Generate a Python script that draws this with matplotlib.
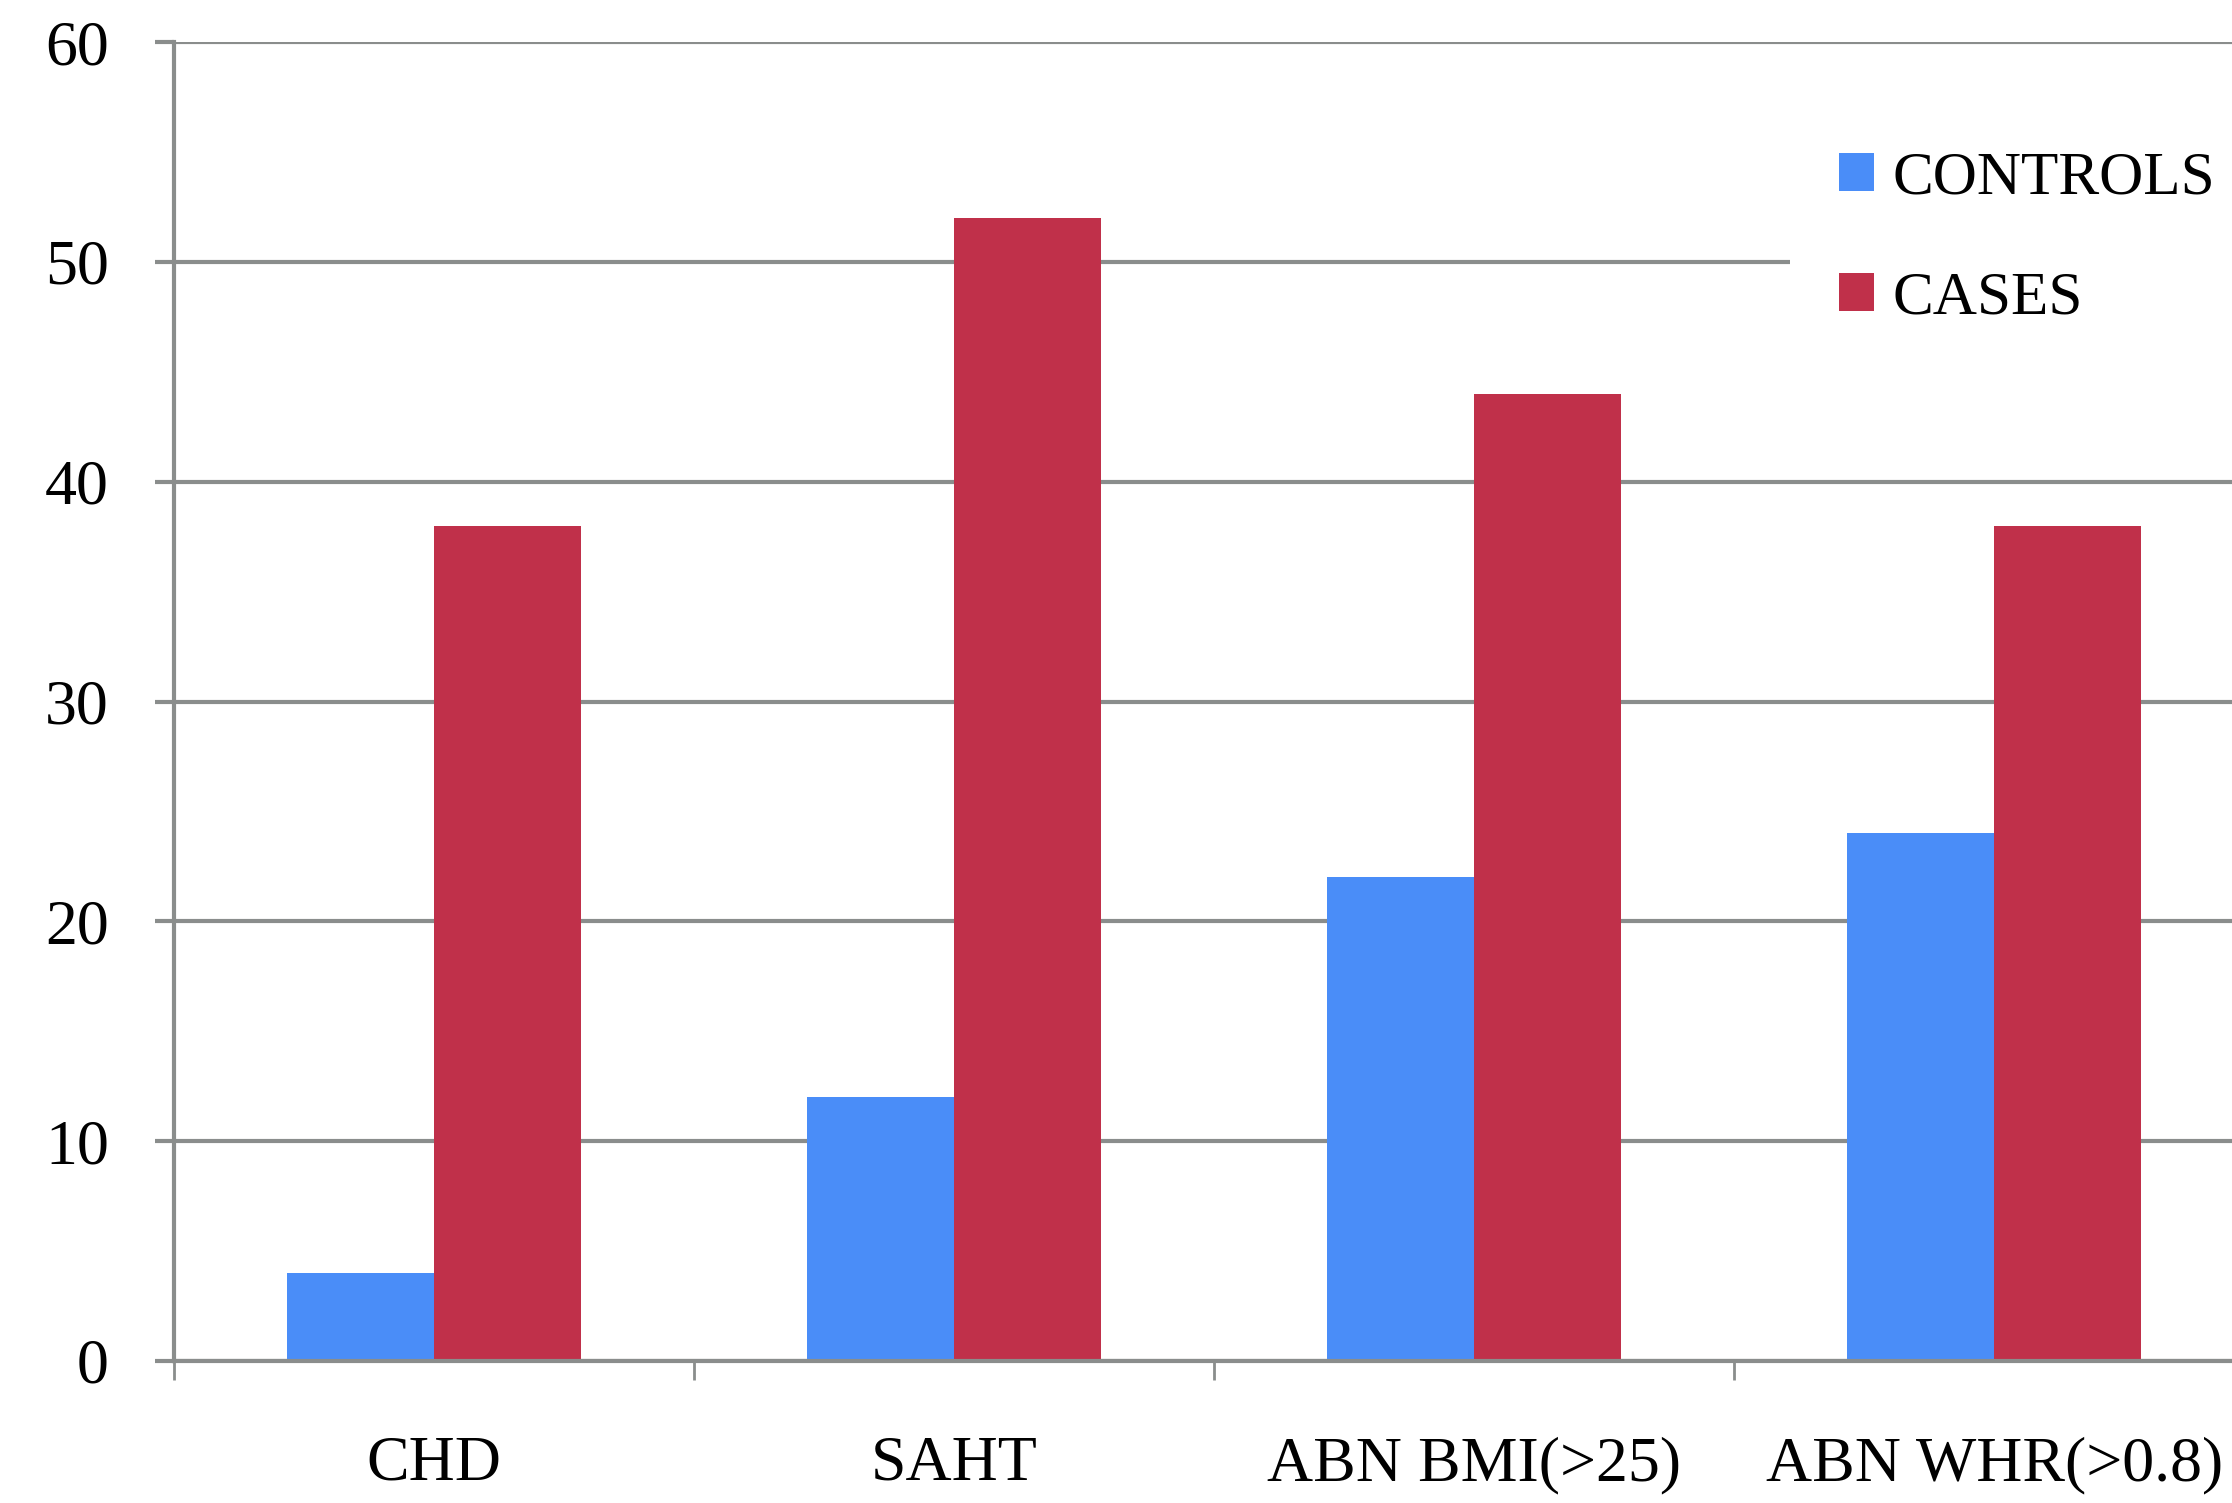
import matplotlib
matplotlib.use("Agg")
import matplotlib.pyplot as plt
import numpy as np

categories = ["CHD", "SAHT", "ABN BMI(>25)", "ABN WHR(>0.8)"]
controls = [4, 12, 22, 24]
cases = [38, 52, 44, 38]
yticks = [0, 10, 20, 30, 40, 50, 60]

blue = "#4A8DF8"
red = "#C0304A"
grey = "#8A8D8C"

plt.rcParams["font.family"] = ["Liberation Serif", "DejaVu Serif"]

fig = plt.figure(figsize=(22.32, 15.03), dpi=100)
ax = fig.add_axes([0.078, 0.0945, 0.932, 0.8775])

x = np.arange(len(categories))
w = 0.283
ax.bar(x - w / 2, controls, width=w, color=blue, label="CONTROLS", zorder=3)
ax.bar(x + w / 2, cases, width=w, color=red, label="CASES", zorder=3)

ax.set_xlim(-0.5, len(categories) - 0.5)
ax.set_ylim(0, 60)
ax.set_yticks(yticks)
ax.set_yticklabels([str(v) for v in yticks])
ax.yaxis.grid(True, color=grey, linewidth=3, zorder=0)
ax.set_axisbelow(True)

# category boundary ticks (major), labels at centers (minor)
ax.set_xticks(np.arange(-0.5, len(categories) + 0.5, 1.0))
ax.set_xticklabels([])
ax.set_xticks(x, minor=True)
ax.set_xticklabels(categories, minor=True)
ax.tick_params(axis="x", which="major", length=14, width=2, color=grey)
ax.tick_params(axis="x", which="minor", length=0, pad=54, labelsize=46)
ax.tick_params(axis="y", which="major", length=14, width=3, color=grey,
               pad=33, labelsize=46)

for s in ["top", "right"]:
    ax.spines[s].set_visible(False)
for s in ["left", "bottom"]:
    ax.spines[s].set_color(grey)
    ax.spines[s].set_linewidth(3)
ax.spines["bottom"].set_zorder(4)

leg = fig.legend(loc="upper left", bbox_to_anchor=(0.802, 0.932),
                 frameon=True, facecolor="white", edgecolor="none",
                 framealpha=1, fancybox=False, fontsize=44,
                 handlelength=0.58, handleheight=0.58, handletextpad=0.3,
                 labelspacing=1.05, borderpad=0.8, borderaxespad=0)

fig.savefig("out.png", dpi=100)
